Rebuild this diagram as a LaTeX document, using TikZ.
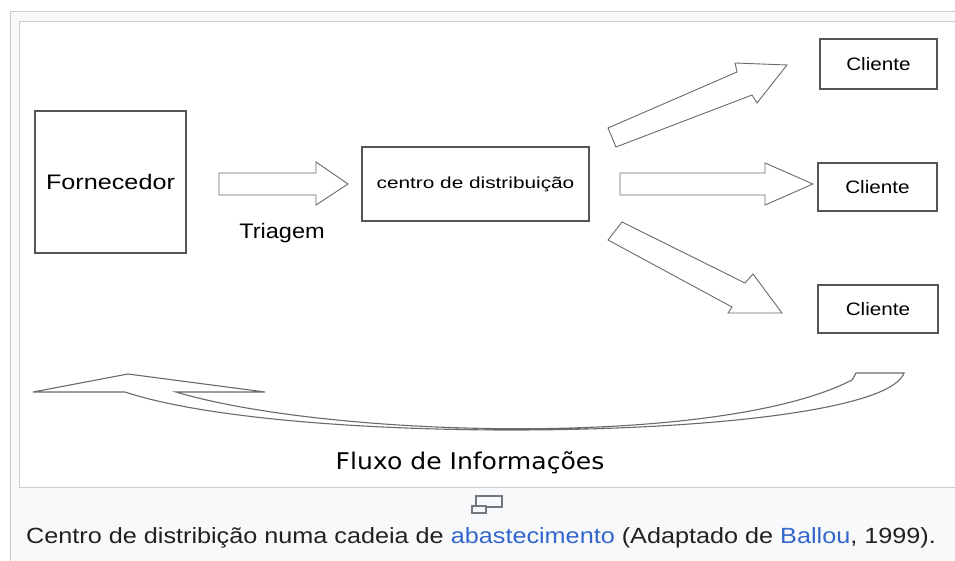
\documentclass[tikz,border=0pt]{standalone}
\usepackage{fontspec}
\setmainfont{Liberation Sans}
\newfontfamily\dejavu{DejaVu Sans}
\definecolor{framegray}{HTML}{C8CCD1}
\definecolor{capbg}{HTML}{F8F9FA}
\definecolor{boxgray}{HTML}{555555}
\definecolor{arrgray}{HTML}{6A6A6A}
\definecolor{captext}{HTML}{202122}
\definecolor{link}{HTML}{3366CC}
\definecolor{icongray}{HTML}{72777D}
\begin{document}
\begin{tikzpicture}[x=1pt,y=-1pt,
  box/.style={draw=boxgray, line width=1.3pt, fill=white, inner sep=0pt, text=black},
  blockarrow/.style={draw=arrgray, line width=0.9pt, fill=white, line join=miter},
  lbl/.style={inner sep=0pt, text=black}]
\useasboundingbox (0,0) rectangle (955,561);
\fill[white] (0,0) rectangle (955,561);
% frames
\draw[framegray, line width=1pt, fill=capbg] (10.5,11.5) rectangle (965,575);
\draw[framegray, line width=1pt, fill=white] (19.5,21.5) rectangle (965,487);
% boxes
\node[box, minimum width=151pt, minimum height=142pt] (forn) at (110.5,182)
  {\fontsize{21}{24}\selectfont\scalebox{1.2}[1]{Fornecedor}};
\node[box, minimum width=227pt, minimum height=74pt] (cd) at (475.5,184)
  {\fontsize{16}{19}\selectfont\scalebox{1.3}[1]{centro de distribuição}};
\node[box, minimum width=117pt, minimum height=50pt] (c1) at (878.5,64)
  {\fontsize{18}{21}\selectfont\scalebox{1.15}[1]{Cliente}};
\node[box, minimum width=119pt, minimum height=48pt] (c2) at (877.5,187)
  {\fontsize{18}{21}\selectfont\scalebox{1.15}[1]{Cliente}};
\node[box, minimum width=120pt, minimum height=48pt] (c3) at (878,309)
  {\fontsize{18}{21}\selectfont\scalebox{1.15}[1]{Cliente}};
% block arrows
\draw[blockarrow] (219,173) -- (316,173) -- (316,162) -- (348,184) -- (316,205) -- (316,195) -- (219,195) -- cycle;
\draw[blockarrow] (620,173) -- (765,173) -- (765,163) -- (813,184) -- (765,205) -- (765,195) -- (620,195) -- cycle;
\draw[blockarrow] (608,128) -- (737,72) -- (735,63) -- (787,65) -- (757,103) -- (752,95) -- (616,147) -- cycle;
\draw[blockarrow] (622,222) -- (745,283) -- (753,274) -- (782,313) -- (728,313) -- (732,307) -- (608,240) -- cycle;
% labels
\node[lbl] (tri) at (282,233) {\fontsize{21}{24}\selectfont\scalebox{1.12}[1]{Triagem}};
% curved information-flow arrow
\draw[blockarrow, line width=1.1pt] (33,392) -- (128,374) -- (265,392) -- (176,392)
  .. controls (330,438) and (720,448) .. (852,380) -- (856,373) -- (904,373)
  .. controls (880,440) and (300,450) .. (125,392) -- cycle;
\node[lbl] (fluxo) at (470,463) {\dejavu\fontsize{23}{26}\selectfont\scalebox{1.09}[1]{Fluxo de Informações}};
% magnify icon
\draw[icongray, line width=1.4pt] (476,496) rectangle (502,507);
\draw[icongray, line width=1.4pt, fill=capbg] (472,506) rectangle (486,513);
% caption
\node[lbl, anchor=west, text=captext] (cap) at (26,538)
  {\fontsize{22}{25}\selectfont\scalebox{1.146}[1]{Centro de distribição numa cadeia de \textcolor{link}{abastecimento} (Adaptado de \textcolor{link}{Ballou}, 1999).}};
\end{tikzpicture}
\end{document}
